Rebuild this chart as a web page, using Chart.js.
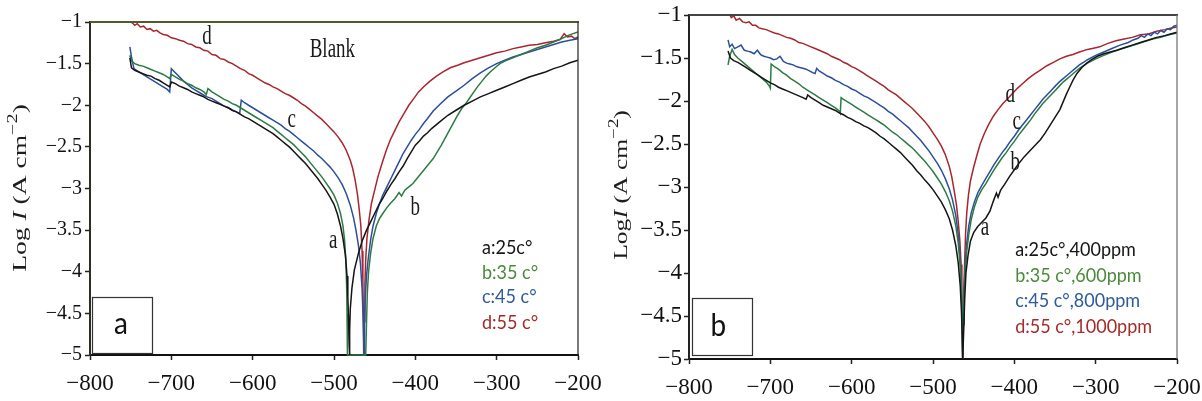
<!DOCTYPE html>
<html><head><meta charset="utf-8">
<script src="https://cdn.jsdelivr.net/npm/chart.js@4.4.1/dist/chart.umd.min.js"></script>
<style>
html,body{margin:0;padding:0;background:#fff;}
#wrap{position:relative;width:1202px;height:401px;overflow:hidden;background:#fff;}
.cv{position:absolute;top:0;width:601px;height:401px;}
</style></head><body>
<div id="wrap">
<div class="cv" style="left:0"><canvas id="cA" width="601" height="401"></canvas></div>
<div class="cv" style="left:601px"><canvas id="cB" width="601" height="401"></canvas></div>
</div>
<script>
// ---------- tick values ----------
const xTicks = [-800, -700, -600, -500, -400, -300, -200];
const yTicks = [-1, -1.5, -2, -2.5, -3, -3.5, -4, -4.5, -5];

// ---------- series names ----------
const seriesA = ['a:25c°', 'b:35 c°', 'c:45 c°', 'd:55 c°'];
const seriesB = ['a:25c°,400ppm', 'b:35 c°,600ppm', 'c:45 c°,800ppm', 'd:55 c°,1000ppm'];

// ---------- panel (a): potential (mV), log I ----------
const A_a = [[-751,-1.43],[-749,-1.55],[-745,-1.58],[-740,-1.6],[-735,-1.62],[-730,-1.64],[-725,-1.65],[-720,-1.68],[-715,-1.7],[-710,-1.73],[-705,-1.76],[-702,-1.78],[-700,-1.72],[-695,-1.74],[-690,-1.77],[-685,-1.79],[-680,-1.81],[-675,-1.84],[-670,-1.86],[-665,-1.88],[-660,-1.9],[-655,-1.93],[-650,-1.95],[-645,-1.97],[-640,-1.99],[-635,-2.01],[-630,-2.03],[-625,-2.06],[-620,-2.08],[-615,-2.11],[-610,-2.14],[-605,-2.16],[-600,-2.19],[-595,-2.22],[-590,-2.25],[-585,-2.28],[-580,-2.31],[-575,-2.34],[-570,-2.38],[-565,-2.42],[-560,-2.46],[-555,-2.5],[-550,-2.55],[-545,-2.6],[-540,-2.65],[-535,-2.7],[-530,-2.76],[-525,-2.82],[-520,-2.88],[-515,-2.95],[-510,-3.02],[-505,-3.1],[-500,-3.19],[-496,-3.3],[-492,-3.45],[-489,-3.6],[-486,-3.8],[-484,-4.05],[-483,-4.3],[-482,-4.6],[-481.5,-4.85],[-481,-5],[-480.5,-4.7],[-480,-4.45],[-478,-4.2],[-475,-3.98],[-470,-3.78],[-465,-3.62],[-460,-3.5],[-455,-3.4],[-450,-3.3],[-445,-3.2],[-440,-3.12],[-435,-3.03],[-430,-2.95],[-425,-2.88],[-420,-2.8],[-415,-2.73],[-410,-2.64],[-405,-2.56],[-400,-2.48],[-395,-2.43],[-390,-2.37],[-385,-2.33],[-380,-2.28],[-370,-2.2],[-360,-2.12],[-350,-2.06],[-340,-2.0],[-330,-1.95],[-320,-1.9],[-310,-1.86],[-300,-1.82],[-290,-1.78],[-280,-1.74],[-270,-1.7],[-260,-1.66],[-250,-1.63],[-240,-1.6],[-230,-1.56],[-220,-1.53],[-210,-1.49],[-200,-1.46]];
const A_b = [[-751,-1.4],[-749,-1.47],[-745,-1.5],[-740,-1.52],[-735,-1.53],[-730,-1.55],[-725,-1.57],[-720,-1.59],[-715,-1.61],[-710,-1.63],[-705,-1.66],[-702,-1.68],[-700,-1.63],[-695,-1.66],[-690,-1.69],[-685,-1.71],[-680,-1.74],[-675,-1.76],[-670,-1.79],[-665,-1.81],[-660,-1.84],[-657,-1.87],[-655,-1.8],[-650,-1.84],[-645,-1.87],[-640,-1.9],[-635,-1.93],[-630,-1.95],[-625,-1.98],[-620,-2.0],[-615,-2.03],[-610,-2.06],[-605,-2.09],[-600,-2.12],[-595,-2.15],[-590,-2.18],[-585,-2.21],[-580,-2.24],[-575,-2.27],[-570,-2.31],[-565,-2.35],[-560,-2.39],[-555,-2.43],[-550,-2.47],[-545,-2.52],[-540,-2.57],[-535,-2.62],[-530,-2.68],[-525,-2.74],[-520,-2.8],[-515,-2.86],[-510,-2.93],[-505,-3.0],[-500,-3.08],[-496,-3.17],[-492,-3.3],[-489,-3.45],[-487,-3.62],[-485.5,-3.85],[-484.5,-4.15],[-484,-4.5],[-483.5,-5],[-470,-5],[-461,-5],[-460,-4.6],[-459,-4.25],[-457.5,-4.0],[-455,-3.78],[-452,-3.6],[-448,-3.45],[-444,-3.36],[-440,-3.3],[-435,-3.23],[-430,-3.17],[-425,-3.12],[-420,-3.05],[-417,-3.09],[-413,-3.02],[-408,-2.98],[-403,-2.94],[-398,-2.88],[-393,-2.82],[-388,-2.76],[-383,-2.7],[-378,-2.64],[-373,-2.56],[-368,-2.48],[-363,-2.39],[-358,-2.3],[-353,-2.21],[-348,-2.12],[-343,-2.04],[-338,-1.98],[-333,-1.91],[-328,-1.84],[-323,-1.77],[-318,-1.71],[-313,-1.65],[-308,-1.6],[-302,-1.55],[-296,-1.5],[-290,-1.47],[-280,-1.43],[-270,-1.39],[-260,-1.35],[-250,-1.31],[-240,-1.28],[-230,-1.24],[-220,-1.2],[-212,-1.16],[-206,-1.14],[-200,-1.12]];
const A_c = [[-751,-1.3],[-749,-1.42],[-746,-1.56],[-740,-1.6],[-735,-1.63],[-730,-1.66],[-725,-1.69],[-720,-1.72],[-715,-1.75],[-710,-1.78],[-705,-1.81],[-702,-1.84],[-700,-1.56],[-696,-1.6],[-692,-1.64],[-688,-1.68],[-684,-1.72],[-680,-1.75],[-675,-1.79],[-670,-1.82],[-665,-1.85],[-660,-1.88],[-656,-1.9],[-650,-1.92],[-645,-1.95],[-640,-1.98],[-635,-2.01],[-630,-2.03],[-625,-2.06],[-620,-2.08],[-616,-2.1],[-614,-1.94],[-610,-1.97],[-605,-2.0],[-600,-2.03],[-595,-2.06],[-590,-2.09],[-585,-2.12],[-580,-2.15],[-575,-2.18],[-570,-2.21],[-565,-2.24],[-560,-2.28],[-555,-2.31],[-550,-2.35],[-545,-2.39],[-540,-2.43],[-535,-2.47],[-530,-2.51],[-525,-2.55],[-520,-2.6],[-515,-2.64],[-510,-2.69],[-505,-2.74],[-500,-2.8],[-495,-2.87],[-490,-2.95],[-485,-3.06],[-480,-3.2],[-476,-3.35],[-473,-3.5],[-470,-3.68],[-467.5,-3.9],[-465.5,-4.2],[-464,-4.6],[-463,-5],[-462.5,-4.6],[-461.5,-4.3],[-460,-4.05],[-458,-3.85],[-455,-3.62],[-452,-3.45],[-448,-3.3],[-444,-3.18],[-440,-3.08],[-435,-2.98],[-430,-2.88],[-425,-2.78],[-420,-2.68],[-415,-2.58],[-410,-2.5],[-405,-2.42],[-400,-2.35],[-395,-2.29],[-390,-2.22],[-385,-2.16],[-378,-2.07],[-370,-1.99],[-360,-1.9],[-350,-1.83],[-340,-1.76],[-330,-1.68],[-320,-1.61],[-310,-1.55],[-300,-1.5],[-290,-1.46],[-280,-1.42],[-270,-1.39],[-260,-1.36],[-250,-1.33],[-240,-1.3],[-230,-1.27],[-220,-1.24],[-210,-1.22],[-200,-1.2]];
const A_d = [[-751,-1.0],[-748,-1.01],[-745,-1.04],[-742,-1.02],[-738,-1.06],[-734,-1.05],[-730,-1.09],[-726,-1.08],[-722,-1.11],[-718,-1.1],[-714,-1.13],[-710,-1.15],[-705,-1.16],[-700,-1.19],[-695,-1.2],[-690,-1.22],[-685,-1.23],[-680,-1.26],[-675,-1.27],[-670,-1.3],[-665,-1.31],[-660,-1.34],[-655,-1.35],[-650,-1.39],[-645,-1.4],[-640,-1.44],[-635,-1.45],[-630,-1.48],[-625,-1.5],[-620,-1.53],[-615,-1.56],[-610,-1.58],[-605,-1.62],[-600,-1.64],[-595,-1.67],[-590,-1.7],[-585,-1.73],[-580,-1.75],[-575,-1.78],[-570,-1.8],[-565,-1.83],[-560,-1.86],[-555,-1.88],[-550,-1.91],[-545,-1.94],[-540,-1.98],[-535,-2.01],[-530,-2.05],[-525,-2.09],[-520,-2.13],[-515,-2.17],[-510,-2.22],[-505,-2.27],[-500,-2.32],[-495,-2.38],[-490,-2.45],[-485,-2.54],[-480,-2.66],[-477,-2.76],[-474,-2.9],[-471,-3.08],[-469,-3.25],[-467,-3.45],[-465.5,-3.75],[-464.5,-4.1],[-464,-4.5],[-463.5,-5],[-463,-4.6],[-462,-4.15],[-461,-3.85],[-459.5,-3.6],[-457,-3.38],[-454,-3.18],[-450,-3.02],[-446,-2.86],[-441,-2.7],[-436,-2.55],[-431,-2.42],[-426,-2.32],[-420,-2.2],[-414,-2.1],[-408,-2.0],[-402,-1.92],[-396,-1.84],[-390,-1.78],[-382,-1.71],[-374,-1.65],[-366,-1.6],[-357,-1.55],[-348,-1.52],[-340,-1.49],[-330,-1.46],[-320,-1.43],[-310,-1.4],[-300,-1.37],[-290,-1.35],[-280,-1.32],[-270,-1.3],[-260,-1.28],[-250,-1.27],[-240,-1.25],[-230,-1.23],[-222,-1.21],[-217,-1.14],[-213,-1.18],[-208,-1.17],[-204,-1.2],[-200,-1.18]];

// ---------- panel (b): potential (mV), log I ----------
const B_a = [[-752,-1.42],[-749,-1.5],[-745,-1.53],[-740,-1.55],[-735,-1.58],[-730,-1.61],[-725,-1.64],[-720,-1.67],[-715,-1.7],[-710,-1.73],[-705,-1.76],[-700,-1.79],[-695,-1.81],[-690,-1.84],[-685,-1.86],[-680,-1.88],[-675,-1.9],[-670,-1.92],[-665,-1.94],[-660,-1.96],[-656,-1.98],[-654,-1.93],[-650,-1.96],[-645,-1.99],[-640,-2.02],[-635,-2.05],[-630,-2.07],[-625,-2.09],[-620,-2.11],[-615,-2.14],[-610,-2.16],[-605,-2.19],[-600,-2.21],[-595,-2.24],[-590,-2.26],[-585,-2.29],[-580,-2.31],[-575,-2.34],[-570,-2.37],[-565,-2.41],[-560,-2.44],[-555,-2.48],[-550,-2.52],[-545,-2.56],[-540,-2.6],[-535,-2.65],[-530,-2.7],[-525,-2.75],[-520,-2.81],[-515,-2.86],[-510,-2.92],[-505,-2.97],[-500,-3.03],[-495,-3.1],[-490,-3.17],[-485,-3.26],[-480,-3.37],[-476,-3.5],[-472,-3.68],[-469,-3.88],[-466.5,-4.15],[-465,-4.45],[-464,-4.75],[-463.5,-5],[-462,-4.6],[-461,-4.3],[-459.5,-4.0],[-457,-3.8],[-454,-3.63],[-450,-3.53],[-445,-3.46],[-440,-3.41],[-435,-3.36],[-430,-3.28],[-426,-3.17],[-422,-3.07],[-420,-3.12],[-417,-3.04],[-412,-2.97],[-406,-2.88],[-400,-2.8],[-394,-2.72],[-388,-2.65],[-382,-2.59],[-375,-2.52],[-368,-2.45],[-362,-2.37],[-356,-2.28],[-350,-2.19],[-344,-2.1],[-340,-2.01],[-336,-1.92],[-332,-1.84],[-328,-1.76],[-323,-1.68],[-317,-1.61],[-311,-1.56],[-305,-1.52],[-298,-1.48],[-290,-1.45],[-282,-1.43],[-274,-1.41],[-265,-1.38],[-255,-1.35],[-245,-1.32],[-235,-1.29],[-225,-1.26],[-215,-1.24],[-208,-1.22],[-200,-1.2]];
const B_b = [[-752,-1.58],[-750,-1.48],[-747,-1.4],[-744,-1.46],[-740,-1.5],[-735,-1.54],[-730,-1.58],[-725,-1.62],[-720,-1.66],[-715,-1.7],[-710,-1.74],[-705,-1.78],[-701,-1.83],[-700,-1.85],[-699,-1.57],[-695,-1.6],[-690,-1.63],[-685,-1.67],[-680,-1.7],[-675,-1.74],[-670,-1.77],[-665,-1.8],[-660,-1.84],[-655,-1.87],[-650,-1.9],[-645,-1.93],[-640,-1.96],[-635,-1.99],[-630,-2.02],[-625,-2.05],[-620,-2.08],[-615,-2.12],[-614,-2.14],[-613,-1.96],[-610,-1.98],[-605,-2.01],[-600,-2.04],[-595,-2.07],[-590,-2.1],[-585,-2.13],[-580,-2.16],[-575,-2.19],[-570,-2.22],[-565,-2.25],[-560,-2.28],[-555,-2.32],[-550,-2.36],[-545,-2.39],[-540,-2.43],[-535,-2.47],[-530,-2.51],[-525,-2.55],[-520,-2.6],[-515,-2.65],[-510,-2.7],[-505,-2.76],[-500,-2.82],[-495,-2.89],[-490,-2.96],[-485,-3.05],[-480,-3.16],[-476,-3.28],[-472,-3.45],[-469,-3.65],[-466.5,-3.92],[-465,-4.25],[-464,-4.6],[-463.5,-5],[-463,-4.6],[-462,-4.3],[-460.5,-4.0],[-458.5,-3.75],[-456,-3.55],[-453,-3.38],[-449,-3.23],[-445,-3.12],[-440,-3.03],[-435,-2.96],[-430,-2.88],[-425,-2.8],[-420,-2.73],[-415,-2.66],[-410,-2.6],[-405,-2.53],[-400,-2.47],[-395,-2.4],[-390,-2.34],[-385,-2.28],[-380,-2.22],[-375,-2.15],[-370,-2.09],[-365,-2.03],[-360,-1.98],[-355,-1.93],[-350,-1.88],[-345,-1.83],[-340,-1.78],[-335,-1.74],[-330,-1.7],[-325,-1.66],[-320,-1.62],[-315,-1.59],[-310,-1.56],[-300,-1.51],[-290,-1.47],[-280,-1.43],[-270,-1.4],[-260,-1.37],[-250,-1.34],[-240,-1.31],[-230,-1.28],[-220,-1.26],[-210,-1.23],[-200,-1.21]];
const B_c = [[-752,-1.29],[-750,-1.37],[-747,-1.34],[-744,-1.39],[-740,-1.37],[-736,-1.35],[-732,-1.41],[-728,-1.42],[-724,-1.43],[-720,-1.45],[-716,-1.41],[-712,-1.46],[-708,-1.48],[-704,-1.49],[-700,-1.5],[-696,-1.52],[-692,-1.51],[-688,-1.48],[-684,-1.54],[-680,-1.56],[-676,-1.57],[-672,-1.58],[-668,-1.6],[-664,-1.61],[-660,-1.62],[-656,-1.63],[-652,-1.65],[-648,-1.67],[-645,-1.68],[-643,-1.62],[-640,-1.65],[-635,-1.68],[-630,-1.71],[-625,-1.73],[-620,-1.76],[-615,-1.78],[-610,-1.81],[-605,-1.83],[-600,-1.86],[-595,-1.88],[-590,-1.91],[-585,-1.94],[-580,-1.96],[-575,-1.99],[-570,-2.02],[-565,-2.05],[-560,-2.08],[-555,-2.12],[-550,-2.15],[-545,-2.19],[-540,-2.23],[-535,-2.27],[-530,-2.31],[-525,-2.36],[-520,-2.41],[-515,-2.46],[-510,-2.52],[-505,-2.58],[-500,-2.65],[-495,-2.72],[-490,-2.8],[-485,-2.9],[-480,-3.02],[-476,-3.15],[-472,-3.33],[-469,-3.55],[-466.5,-3.85],[-465,-4.2],[-464,-4.6],[-463.5,-5],[-463,-4.55],[-462,-4.2],[-460.5,-3.9],[-458.5,-3.65],[-456,-3.45],[-453,-3.3],[-449,-3.17],[-445,-3.07],[-440,-2.98],[-435,-2.9],[-430,-2.82],[-425,-2.74],[-420,-2.67],[-415,-2.6],[-410,-2.54],[-405,-2.47],[-400,-2.41],[-395,-2.34],[-390,-2.28],[-385,-2.22],[-380,-2.16],[-375,-2.1],[-370,-2.04],[-365,-1.98],[-360,-1.93],[-355,-1.88],[-350,-1.83],[-345,-1.78],[-340,-1.74],[-335,-1.7],[-330,-1.66],[-325,-1.62],[-320,-1.58],[-315,-1.55],[-310,-1.52],[-300,-1.47],[-290,-1.43],[-280,-1.39],[-270,-1.35],[-260,-1.32],[-254,-1.29],[-248,-1.27],[-244,-1.24],[-240,-1.26],[-236,-1.22],[-232,-1.24],[-228,-1.2],[-224,-1.22],[-220,-1.18],[-216,-1.2],[-212,-1.16],[-208,-1.17],[-204,-1.13],[-200,-1.12]];
const B_d = [[-750,-0.99],[-748,-1.03],[-745,-1.01],[-742,-1.06],[-738,-1.04],[-734,-1.08],[-730,-1.09],[-726,-1.08],[-722,-1.12],[-718,-1.12],[-714,-1.15],[-710,-1.16],[-705,-1.17],[-700,-1.19],[-695,-1.21],[-690,-1.22],[-685,-1.24],[-680,-1.26],[-675,-1.27],[-670,-1.29],[-665,-1.32],[-660,-1.33],[-655,-1.35],[-650,-1.37],[-645,-1.39],[-640,-1.41],[-635,-1.43],[-630,-1.45],[-625,-1.48],[-620,-1.5],[-615,-1.52],[-610,-1.55],[-605,-1.57],[-600,-1.6],[-595,-1.62],[-590,-1.65],[-585,-1.68],[-580,-1.71],[-575,-1.74],[-570,-1.77],[-565,-1.8],[-560,-1.83],[-555,-1.87],[-550,-1.9],[-545,-1.93],[-540,-1.97],[-535,-2.01],[-530,-2.05],[-525,-2.09],[-520,-2.14],[-515,-2.19],[-510,-2.24],[-505,-2.3],[-500,-2.37],[-495,-2.44],[-490,-2.52],[-485,-2.62],[-480,-2.76],[-477,-2.88],[-474,-3.04],[-471,-3.22],[-469,-3.4],[-467,-3.62],[-465.5,-3.9],[-464.5,-4.25],[-464,-4.6],[-463.5,-5],[-463,-4.6],[-462,-4.2],[-461,-3.85],[-460,-3.55],[-458.5,-3.3],[-456.5,-3.1],[-454,-2.93],[-450,-2.77],[-446,-2.63],[-442,-2.5],[-437,-2.38],[-432,-2.28],[-426,-2.18],[-420,-2.1],[-414,-2.03],[-408,-1.97],[-402,-1.91],[-396,-1.85],[-390,-1.8],[-383,-1.74],[-376,-1.69],[-368,-1.64],[-360,-1.59],[-352,-1.55],[-344,-1.51],[-336,-1.48],[-328,-1.46],[-320,-1.43],[-310,-1.4],[-300,-1.38],[-295,-1.37],[-285,-1.33],[-275,-1.3],[-265,-1.28],[-255,-1.26],[-245,-1.23],[-235,-1.22],[-225,-1.19],[-215,-1.17],[-207,-1.15],[-200,-1.14]];

// ---------- styling ----------
const SERIF = '"Liberation Serif", "Times New Roman", serif';
const SANS = 'Lato, "Noto Sans", sans-serif';
const lineColors = ['#151515', '#2e7a45', '#2b4f9c', '#a8262e'];
const legendColors = ['#151515', '#4a8b3b', '#2f5a9c', '#a52a2a'];
const fmt = v => String(v).replace('-', '\u2212');

function sText(ctx, txt, x, y, font, color, sy, align) {
  ctx.save();
  ctx.translate(x, y);
  ctx.scale(1, sy);
  ctx.font = font; ctx.fillStyle = color;
  ctx.textAlign = align || 'center'; ctx.textBaseline = 'middle';
  ctx.fillText(txt, 0, 0);
  ctx.restore();
}

function drawYTitle(ctx, cx, cy, size, stretch, parts) {
  ctx.save();
  ctx.translate(cx, cy);
  ctx.rotate(-Math.PI / 2);
  ctx.scale(stretch, 1);
  const fonts = parts.map(p => (p.it ? 'italic ' : '') + Math.round(p.sup ? size * 0.72 : size) + 'px ' + SERIF);
  let total = 0; const w = [];
  parts.forEach((p, i) => { ctx.font = fonts[i]; w[i] = ctx.measureText(p.t).width; total += w[i]; });
  let x = -total / 2;
  ctx.fillStyle = '#1e1e1e'; ctx.textBaseline = 'middle'; ctx.textAlign = 'left';
  parts.forEach((p, i) => { ctx.font = fonts[i]; ctx.fillText(p.t, x, p.sup ? -size * 0.4 : 0); x += w[i]; });
  ctx.restore();
}

function makePanel(canvasId, series, names, P) {
  const decor = {
    id: 'decor',
    afterDraw(chart) {
      const ctx = chart.ctx, a = chart.chartArea;
      const xs = chart.scales.x, ys = chart.scales.y;
      const px = v => xs.getPixelForValue(v), py = v => ys.getPixelForValue(v);
      ctx.save();
      ctx.strokeStyle = P.topColor; ctx.lineWidth = 2;
      ctx.beginPath(); ctx.moveTo(a.left, a.top); ctx.lineTo(a.right + 1, a.top); ctx.stroke();
      ctx.strokeStyle = P.rightColor; ctx.lineWidth = 1.3;
      ctx.beginPath(); ctx.moveTo(a.right, a.top); ctx.lineTo(a.right, a.bottom); ctx.stroke();
      const b = P.box;
      ctx.strokeStyle = '#333'; ctx.lineWidth = 1.2;
      const bx1 = px(b.x1), bx2 = px(b.x2), by1 = py(b.y1), by2 = py(b.y2);
      ctx.fillStyle = '#fff';
      ctx.fillRect(bx1, by1, bx2 - bx1, by2 - by1);
      ctx.strokeRect(Math.round(bx1) + 0.5, Math.round(by1) + 0.5, Math.round(bx2 - bx1), Math.round(by2 - by1));
      ctx.restore();
      sText(ctx, b.label, px(b.lx), py(b.ly), '28px ' + SANS, '#111', 1.1, 'center');
      names.forEach((n, i) => {
        sText(ctx, n, px(P.legX), py(P.legY[i]), '18px ' + SANS, legendColors[i], 1.05, 'left');
      });
      P.labels.forEach(l => sText(ctx, l.t, px(l.x), py(l.y), '19px ' + SERIF, '#1a1a1a', 1.4, 'center'));
      drawYTitle(ctx, P.titleX, P.titleY, P.titleSize, P.titleStretch, P.titleParts);
    }
  };
  return new Chart(document.getElementById(canvasId), {
    type: 'scatter',
    data: {
      datasets: series.map((s, i) => ({
        label: names[i],
        data: s.map(p => ({ x: p[0], y: p[1] })),
        showLine: true,
        borderColor: lineColors[i],
        borderWidth: 1.5,
        pointRadius: 0,
        tension: 0,
        clip: { left: 1, top: 3, right: 1, bottom: 3 }
      }))
    },
    options: {
      responsive: false,
      animation: false,
      events: [],
      layout: { padding: { left: 0, right: P.padR, top: P.padT, bottom: 0 } },
      plugins: { legend: { display: false }, tooltip: { enabled: false } },
      scales: {
        x: {
          type: 'linear', min: -800, max: -200,
          afterBuildTicks: s => { s.ticks = xTicks.map(v => ({ value: v })); },
          afterFit: s => { s.height = P.xH; s.paddingLeft = 0; s.paddingRight = 0; },
          ticks: { font: { family: SERIF, size: P.xFont }, color: '#111', padding: P.xPad, maxRotation: 0, autoSkip: false, callback: v => fmt(v) },
          grid: { drawOnChartArea: false, drawTicks: true, tickLength: 5, color: '#222', tickWidth: 1.5 },
          border: { display: true, color: '#111', width: 2 }
        },
        y: {
          type: 'linear', min: -5, max: -1,
          afterBuildTicks: s => { s.ticks = yTicks.map(v => ({ value: v })); },
          afterFit: s => { s.width = P.yW; s.paddingTop = 0; s.paddingBottom = 0; },
          ticks: { font: { family: SERIF, size: P.yFont }, color: '#111', padding: P.yPad, autoSkip: false, callback: v => fmt(v) },
          grid: { drawOnChartArea: false, drawTicks: true, tickLength: 5, color: '#222', tickWidth: 1.5 },
          border: { display: true, color: P.leftColor, width: 2 }
        }
      }
    },
    plugins: [decor]
  });
}

makePanel('cA', [A_a, A_b, A_c, A_d], seriesA, {
  padR: 23, padT: 22, yW: 90, xH: 46, xFont: 23, xPad: 10, yFont: 20, yPad: 3,
  topColor: '#4d5e2c', rightColor: '#333', leftColor: '#2a2f22',
  box: { x1: -797.5, x2: -723.8, y1: -4.30, y2: -4.976, label: 'a', lx: -762, ly: -4.63 },
  legX: -318, legY: [-3.71, -4.01, -4.30, -4.61],
  labels: [
    { t: 'd', x: -656, y: -1.18 }, { t: 'c', x: -552, y: -2.18 },
    { t: 'b', x: -400, y: -3.23 }, { t: 'a', x: -501, y: -3.63 },
    { t: 'Blank', x: -502, y: -1.34 }
  ],
  titleX: 21, titleY: 188, titleSize: 19, titleStretch: 1.45,
  titleParts: [{ t: 'Log ' }, { t: 'I', it: true }, { t: ' (A cm' }, { t: '\u22122', sup: true }, { t: ')' }]
});

makePanel('cB', [B_a, B_b, B_c, B_d], seriesB, {
  padR: 25, padT: 15, yW: 88, xH: 42, xFont: 23, xPad: 10, yFont: 23, yPad: 2,
  topColor: '#444', rightColor: '#777', leftColor: '#222',
  box: { x1: -796.3, x2: -722.5, y1: -4.29, y2: -4.95, label: 'b', lx: -764, ly: -4.62 },
  legX: -399, legY: [-3.73, -4.03, -4.33, -4.63],
  labels: [
    { t: 'd', x: -405, y: -1.93 }, { t: 'c', x: -397, y: -2.24 },
    { t: 'b', x: -399, y: -2.72 }, { t: 'a', x: -436, y: -3.48 }
  ],
  titleX: 21, titleY: 185, titleSize: 19, titleStretch: 1.35,
  titleParts: [{ t: 'Log' }, { t: 'I', it: true }, { t: ' (A cm' }, { t: '\u22122', sup: true }, { t: ')' }]
});
</script>
</body></html>
